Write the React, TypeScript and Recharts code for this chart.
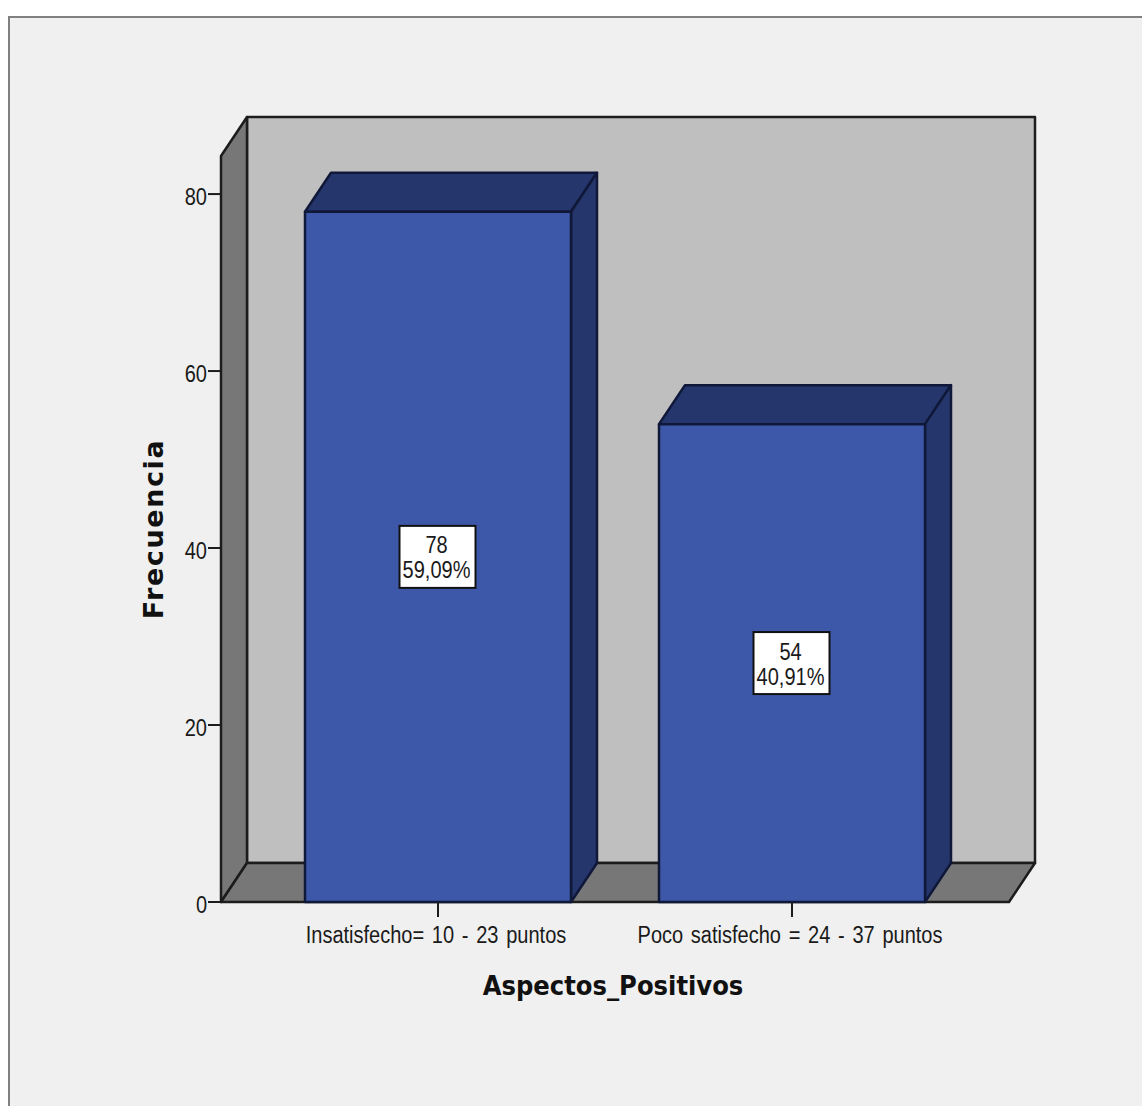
import { BarChart, Bar, XAxis, YAxis, LabelList, usePlotArea } from 'recharts'

const categories = ['Insatisfecho= 10 - 23 puntos', 'Poco satisfecho = 24 - 37 puntos']
const frecuencia = [78, 54]
const porcentajes = ['59,09%', '40,91%']
const yTicks = [0, 20, 40, 60, 80]

const chartData = categories.map((name, i) => ({
  name,
  frecuencia: frecuencia[i],
  porcentaje: porcentajes[i],
}))

const DEPTH_X = 26
const DEPTH_Y = 39
const LINE = '#1c1c1c'

// no narrow Arial available, so squeeze Liberation Sans horizontally
function NarrowText({ x, y, anchor = 'middle', spacing = 0, children }: any) {
  return (
    <text
      transform={`translate(${x},${y}) scale(0.87,1)`}
      textAnchor={anchor}
      fontFamily='"Liberation Sans", sans-serif'
      fontSize={23}
      fill="#1a1a1a"
      style={{ wordSpacing: spacing }}
    >
      {children}
    </text>
  )
}

// back wall, left wall and floor of the 3D box
function Walls() {
  const area = usePlotArea()
  if (!area) return null
  const { x, y, width, height } = area
  const bottom = y + height
  const right = x + width
  return (
    <g stroke={LINE} strokeWidth={2.5} strokeLinejoin="round">
      <rect x={x + DEPTH_X} y={y - DEPTH_Y} width={width} height={height} fill="#bfbfbf" />
      <polygon
        points={`${x},${bottom} ${x},${y} ${x + DEPTH_X},${y - DEPTH_Y} ${x + DEPTH_X},${bottom - DEPTH_Y}`}
        fill="#777777"
      />
      <polygon
        points={`${x},${bottom} ${right},${bottom} ${right + DEPTH_X},${bottom - DEPTH_Y} ${x + DEPTH_X},${bottom - DEPTH_Y}`}
        fill="#777777"
      />
    </g>
  )
}

function Bar3D({ x, y, width, height }: any) {
  const r = x + width
  const b = y + height
  return (
    <g stroke="#10183a" strokeWidth={2.5} strokeLinejoin="round">
      <polygon
        points={`${x},${y} ${x + DEPTH_X},${y - DEPTH_Y} ${r + DEPTH_X},${y - DEPTH_Y} ${r},${y}`}
        fill="#24366b"
      />
      <polygon
        points={`${r},${y} ${r + DEPTH_X},${y - DEPTH_Y} ${r + DEPTH_X},${b - DEPTH_Y} ${r},${b}`}
        fill="#24366b"
      />
      <rect x={x} y={y} width={width} height={height} fill="#3e58a9" />
    </g>
  )
}

function ValueBox({ x, y, width, height, index }: any) {
  const cx = x + width / 2 - 0.5
  const cy = y + height / 2
  return (
    <g>
      <rect x={cx - 38} y={cy - 31} width={76} height={62} fill="#ffffff" stroke="#111" strokeWidth={2} />
      <NarrowText x={cx - 1} y={cy - 3.5}>{frecuencia[index]}</NarrowText>
      <NarrowText x={cx - 1} y={cy + 21.5}>{porcentajes[index]}</NarrowText>
    </g>
  )
}

function YTick({ x, y, payload }: any) {
  return (
    <NarrowText x={x + 1} y={y + 11} anchor="end">
      {payload.value}
    </NarrowText>
  )
}

function XTick({ x, y, payload }: any) {
  return (
    <NarrowText x={x - 2} y={y + 24} spacing={2.5}>
      {payload.value}
    </NarrowText>
  )
}

export default function App() {
  return (
    <div style={{ position: 'absolute', left: 0, top: 0, width: 1142, height: 1106, background: '#fff', overflow: 'hidden' }}>
      <div
        style={{
          position: 'absolute',
          left: 8,
          top: 16,
          width: 1134,
          height: 1090,
          boxSizing: 'border-box',
          background: '#f0f0f0',
          borderLeft: '2px solid #808080',
          borderTop: '2px solid #808080',
        }}
      />
      <div style={{ position: 'absolute', left: 0, top: 0 }}>
        <BarChart
          width={1142}
          height={1106}
          data={chartData}
          margin={{ top: 156, right: 133, bottom: 144, left: 0 }}
          barSize={266}
        >
          <Walls />
          <XAxis
            dataKey="name"
            height={60}
            padding={{ left: 40, right: 40 }}
            interval={0}
            axisLine={false}
            tickSize={15}
            tickLine={{ stroke: LINE, strokeWidth: 2 }}
            tick={<XTick />}
            label={{
              value: 'Aspectos_Positivos',
              position: 'insideBottom',
              offset: -33,
              dx: -2,
              style: { fontFamily: '"DejaVu Sans Condensed", "DejaVu Sans", sans-serif', fontWeight: 700, fontSize: 27, fill: '#111' },
            }}
          />
          <YAxis
            width={221}
            domain={[0, 84.3]}
            ticks={yTicks}
            axisLine={false}
            tickSize={13}
            tickLine={{ stroke: LINE, strokeWidth: 2 }}
            tick={<YTick />}
            label={{
              value: 'Frecuencia',
              angle: -90,
              position: 'insideLeft',
              offset: 153,
              style: { fontFamily: '"DejaVu Sans", sans-serif', fontWeight: 700, fontSize: 27, letterSpacing: 1.6, fill: '#111', textAnchor: 'middle' },
            }}
          />
          <Bar dataKey="frecuencia" isAnimationActive={false} shape={<Bar3D />}>
            <LabelList dataKey="frecuencia" content={<ValueBox />} />
          </Bar>
        </BarChart>
      </div>
    </div>
  )
}
